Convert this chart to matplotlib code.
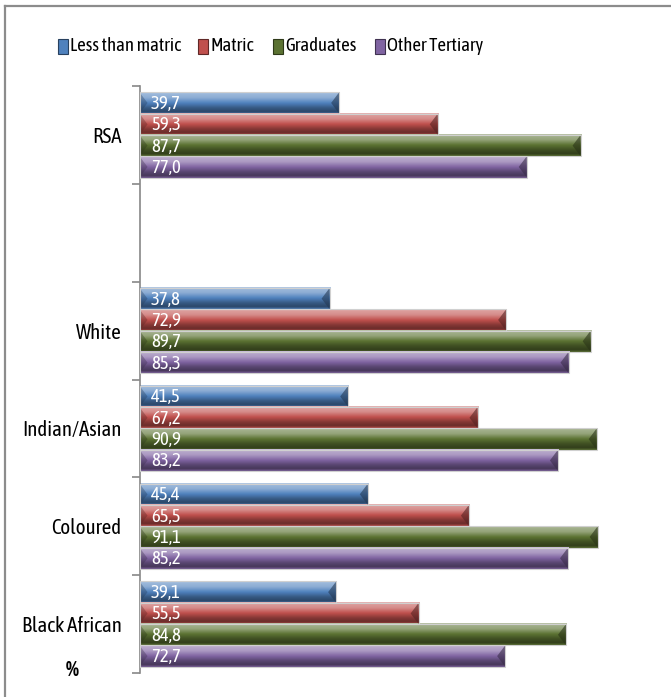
# Taxa de emprego por nível de escolaridade e grupo populacional (%)
import numpy as np
import matplotlib.pyplot as plt
from matplotlib.colors import to_rgb
from matplotlib.patches import Rectangle, Polygon
from matplotlib.lines import Line2D

plt.rcParams['font.family'] = ['Asap Condensed', 'Carlito', 'DejaVu Sans']

# dados (de baixo para cima no eixo y; a linha vazia separa o total RSA)
grupos = ['Black African', 'Coloured', 'Indian/Asian', 'White', '', 'RSA']
series = ['Less than matric', 'Matric', 'Graduates', 'Other Tertiary']
less_than_matric = [39.1, 45.4, 41.5, 37.8, None, 39.7]
matric = [55.5, 65.5, 67.2, 72.9, None, 59.3]
graduates = [84.8, 91.1, 90.9, 89.7, None, 87.7]
other_tertiary = [72.7, 85.2, 83.2, 85.3, None, 77.0]
valores = [less_than_matric, matric, graduates, other_tertiary]
cores = ['#4F81BD', '#C0504D', '#5B7232', '#8064A2']


def gradiente(cor, n=48):
    # faixa vertical clara em cima e escura embaixo (efeito de relevo)
    base = np.array(to_rgb(cor))
    pos = [0.0, 0.06, 0.25, 0.5, 0.72, 0.9, 1.0]
    fat = [0.6, 0.45, 0.35, 0.0, -0.3, -0.45, -0.1]
    f = np.interp(np.linspace(0, 1, n), pos, fat)
    linhas = []
    for k in f:
        if k >= 0:
            linhas.append(base + (1 - base) * k)
        else:
            linhas.append(base * (1 + k))
    return np.array(linhas).reshape(n, 1, 3)


fig = plt.figure(figsize=(6.71, 6.97), dpi=100)
ax = fig.add_axes([0.2079, 0.0344, 0.7496, 0.8422])

h = 0.218
desloc = [1.5 * h, 0.5 * h, -0.5 * h, -1.5 * h]
bevel = 1.6

for serie, vals, cor, d in zip(series, valores, cores, desloc):
    img = gradiente(cor)
    escuro = tuple(np.array(to_rgb(cor)) * 0.45)
    for i, v in enumerate(vals):
        if v is None:
            continue
        yc = i + d
        y0, y1 = yc - h / 2, yc + h / 2
        ax.imshow(img, extent=[0, v, y0, y1], aspect='auto',
                  interpolation='bilinear', zorder=2)
        # pontas chanfradas
        ax.add_patch(Polygon([[v, y1], [v, y0], [v - bevel, yc]],
                             closed=True, facecolor=escuro, alpha=0.6,
                             edgecolor='none', zorder=3))
        ax.add_patch(Polygon([[0, y1], [0, y0], [bevel, yc]],
                             closed=True, facecolor=escuro, alpha=0.35,
                             edgecolor='none', zorder=3))
        ax.add_patch(Rectangle((0, y0), v, h, fill=False,
                               edgecolor='#d0d0d0', linewidth=0.8, zorder=4))
        ax.text(2.3, yc - 0.01, f'{v:.1f}'.replace('.', ','), color='white',
                fontsize=13.5, va='center', ha='left', zorder=5)

ax.set_xlim(0, 100)
ax.set_ylim(-0.5, len(grupos) - 0.5)

# eixo y com marcas nas divisas entre categorias
ax.set_yticks(range(len(grupos)))
ax.set_yticklabels(grupos, fontsize=15)
ax.set_yticks(np.arange(-0.5, len(grupos)), minor=True)
ax.tick_params(axis='y', which='major', length=0, pad=13)
ax.tick_params(axis='y', which='minor', length=6, color='#888888', width=1.2)
ax.set_xticks([])
for lado in ['top', 'right', 'bottom']:
    ax.spines[lado].set_visible(False)
ax.spines['left'].set_color('#888888')
ax.spines['left'].set_linewidth(1.2)

fig.text(72 / 671, 1 - 670 / 697, '%', fontsize=15, fontweight='bold',
         ha='center', va='center')

# legenda manual no topo
leg_x = [58, 198, 273, 375]
for nome, cor, x in zip(series, cores, leg_x):
    W, H = 671, 697
    fig.patches.append(Rectangle((x / W, 1 - 54 / H), 10 / W, 15 / H,
                                 transform=fig.transFigure, facecolor=cor,
                                 edgecolor=tuple(np.array(to_rgb(cor)) * 0.5),
                                 linewidth=0.8))
    fig.text((x + 12) / W, 1 - 46 / H, nome, fontsize=13.5,
             ha='left', va='center')

# moldura (linhas superior e esquerda)
fig.add_artist(Line2D([5 / 671, 1], [1 - 6 / 697, 1 - 6 / 697],
                      transform=fig.transFigure, color='#8c8c8c', linewidth=1.6))
fig.add_artist(Line2D([5 / 671, 5 / 671], [0, 1 - 6 / 697],
                      transform=fig.transFigure, color='#8c8c8c', linewidth=1.6))

fig.savefig('out.png', dpi=100)
